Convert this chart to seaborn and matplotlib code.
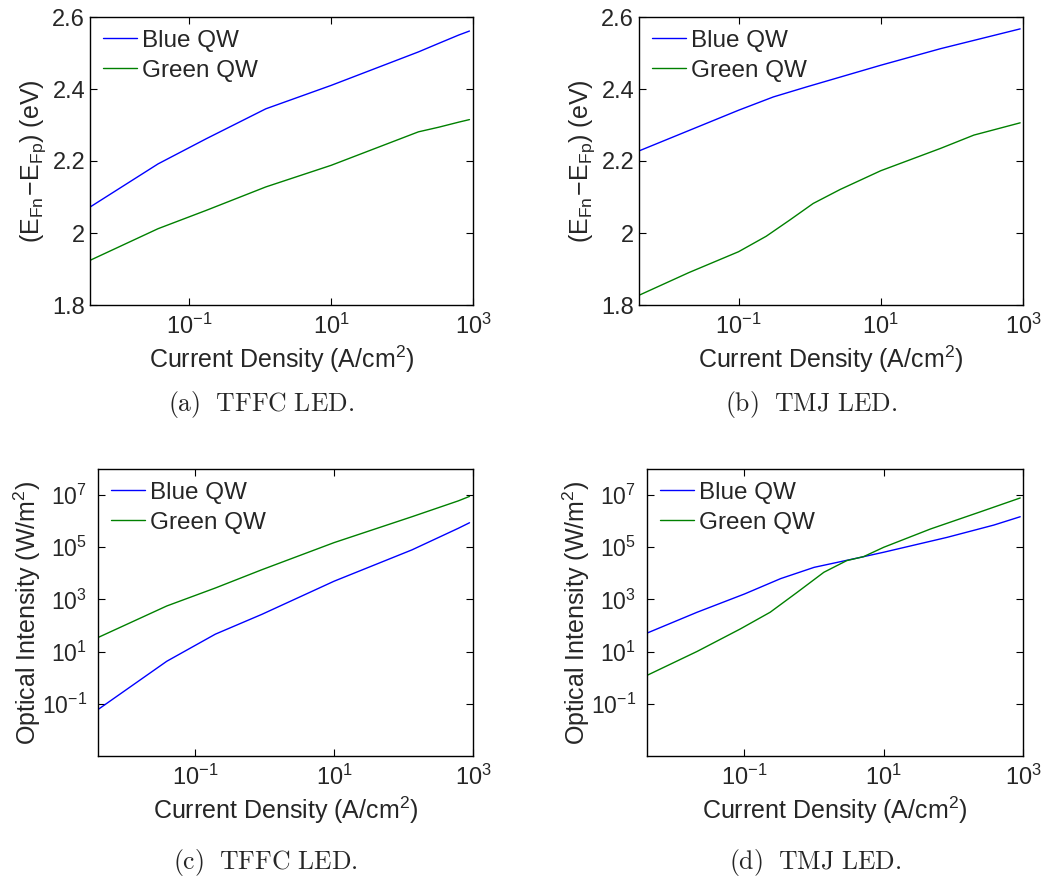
import matplotlib
matplotlib.use('Agg')
import matplotlib.pyplot as plt
import matplotlib.ticker as mticker
import pandas as pd
import seaborn as sns

# (a) TFFC LED, quasi-Fermi level separation (eV)
a_x = [0.00398, 0.0363, 0.174, 1.2, 10, 170, 331, 631, 891]
a_blue_y = [2.072, 2.192, 2.262, 2.345, 2.410, 2.503, 2.527, 2.550, 2.561]
a_green_y = [1.924, 2.012, 2.063, 2.128, 2.188, 2.281, 2.294, 2.308, 2.315]

# (b) TMJ LED, quasi-Fermi level separation (eV)
b_blue_x = [0.00398, 0.1, 0.309, 0.912, 10, 69.2, 912]
b_blue_y = [2.228, 2.341, 2.378, 2.406, 2.466, 2.512, 2.567]
b_green_x = [0.00398, 0.020, 0.1, 0.245, 0.525, 1.12, 2.69, 10, 69.2, 204, 912]
b_green_y = [1.827, 1.890, 1.948, 1.991, 2.036, 2.082, 2.121, 2.173, 2.235, 2.272, 2.306]

# (c) TFFC LED, optical intensity (W/m^2)
c_x = [0.00398, 0.0389, 0.195, 0.912, 10, 132, 617, 891]
c_blue_y = [0.0603, 4.27, 46.8, 269, 5.01e3, 7.94e4, 5.37e5, 8.71e5]
c_green_y = [34.7, 562, 2.75e3, 1.38e4, 1.51e5, 1.48e6, 6.03e6, 8.91e6]

# (d) TMJ LED, optical intensity (W/m^2)
d_blue_x = [0.00398, 0.0209, 0.1, 0.331, 1.0, 4.57, 10, 81.3, 380, 912]
d_blue_y = [51.3, 324, 1.62e3, 6.3e3, 1.70e4, 4.07e4, 6.46e4, 2.40e5, 7.08e5, 1.48e6]
d_green_x = [0.00398, 0.0209, 0.0871, 0.234, 0.575, 1.38, 2.95, 5.13, 10, 46.8, 245, 912]
d_green_y = [1.23, 10.2, 74.1, 324, 1.9e3, 1.1e4, 3.09e4, 4.37e4, 1e5, 5.01e5, 2.29e6, 7.76e6]

series_names = ['Blue QW', 'Green QW']
captions = ['(a)\\ \\ TFFC\\ LED.', '(b)\\ \\ TMJ\\ LED.',
            '(c)\\ \\ TFFC\\ LED.', '(d)\\ \\ TMJ\\ LED.']


def frame(bx, by, gx, gy):
    return pd.DataFrame({
        'J': list(bx) + list(gx),
        'val': list(by) + list(gy),
        'series': [series_names[0]] * len(bx) + [series_names[1]] * len(gx),
    })


sns.set_style('ticks')
plt.rcParams['font.family'] = ['Liberation Sans', 'DejaVu Sans']
plt.rcParams['mathtext.default'] = 'regular'
plt.rcParams['xtick.direction'] = 'in'
plt.rcParams['ytick.direction'] = 'in'
plt.rcParams['axes.linewidth'] = 1.0

fig = plt.figure(figsize=(10.45, 8.76), dpi=100)
W, H = 1045, 876
# axes boxes in pixels: left, top, right, bottom
boxes = [(90, 17, 473, 305), (639, 17, 1023, 305),
         (98, 469, 473, 756), (647, 469, 1023, 756)]
frames = [
    frame(a_x, a_blue_y, a_x, a_green_y),
    frame(b_blue_x, b_blue_y, b_green_x, b_green_y),
    frame(c_x, c_blue_y, c_x, c_green_y),
    frame(d_blue_x, d_blue_y, d_green_x, d_green_y),
]
palette = {'Blue QW': '#0000ff', 'Green QW': '#008000'}

for i, (box, df) in enumerate(zip(boxes, frames)):
    l, t, r, b = box
    ax = fig.add_axes([l / W, 1 - b / H, (r - l) / W, (b - t) / H])
    sns.lineplot(data=df, x='J', y='val', hue='series', palette=palette,
                 estimator=None, sort=True, linewidth=1.0, ax=ax)
    ax.set_xscale('log')
    ax.set_xlim(10 ** -2.4, 1e3)
    ax.set_xticks([1e-1, 1e1, 1e3])
    ax.xaxis.set_minor_locator(mticker.NullLocator())
    ax.tick_params(which='both', top=True, right=True, labelsize=17,
                   length=5, width=0.8, color='black')
    ax.tick_params(axis='x', pad=6)
    if i < 2:
        ax.set_ylim(1.8, 2.6)
        ax.set_yticks([1.8, 2.0, 2.2, 2.4, 2.6])
        ax.yaxis.set_major_formatter(mticker.FormatStrFormatter('%g'))
        ax.set_ylabel('$(E_{Fn}\\!-\\!E_{Fp})$ (eV)', fontsize=18, labelpad=3)
        ax.tick_params(axis='y', pad=3.5)
    else:
        ax.set_yscale('log')
        ax.set_ylim(1e-3, 1e8)
        ax.set_yticks([1e-1, 1e1, 1e3, 1e5, 1e7])
        ax.yaxis.set_minor_locator(mticker.NullLocator())
        ax.set_ylabel('Optical Intensity (W/m$^2$)', fontsize=18, labelpad=-1)
        ax.tick_params(axis='y', pad=8, labelsize=16.5)
    ax.set_xlabel('Current Density (A/cm$^2$)', fontsize=18, labelpad=4)
    for sp in ax.spines.values():
        sp.set_color('black')
    ax.legend(loc='upper left', bbox_to_anchor=(0.022, 0.972), frameon=False,
              fontsize=17.5, handlelength=1.4, handletextpad=0.2,
              labelspacing=0.33, borderaxespad=0, borderpad=0.2)
    cx = ((l + r) / 2 - 20) / W
    cy = 1 - (b + 100) / H if i < 2 else 1 - (b + 106) / H
    fig.text(cx, cy, '$\\mathrm{' + captions[i] + '}$', ha='center', va='center',
             fontsize=18.5, math_fontfamily='cm')

fig.savefig('out.png', dpi=100)
